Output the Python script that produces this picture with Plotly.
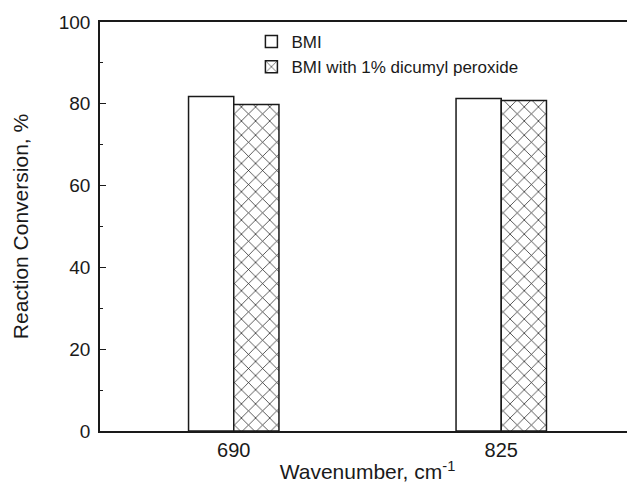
import plotly.graph_objects as go

categories = ["690", "825"]
bmi = [81.8, 81.3]
bmi_dcp = [79.8, 80.8]
series_names = ["BMI", "BMI with 1% dicumyl peroxide"]

FONT = "Arial, Liberation Sans, sans-serif"
INK = "#1a1a1a"

fig = go.Figure()
fig.add_trace(go.Bar(
    x=categories, y=bmi, name=series_names[0],
    marker=dict(color="white", line=dict(color=INK, width=1.5)),
))
fig.add_trace(go.Bar(
    x=categories, y=bmi_dcp, name=series_names[1],
    marker=dict(color="white", line=dict(color=INK, width=1.5),
                pattern=dict(shape="x", size=10, solidity=0.14,
                             fgcolor=INK, bgcolor="white", fillmode="replace")),
))

# page body has an 8px default margin, so the figure is offset by 8px
fig.update_layout(
    width=627, height=484,
    margin=dict(l=92, r=0, t=14, b=61),
    paper_bgcolor="white", plot_bgcolor="white",
    barmode="group", bargap=0.662, bargroupgap=0,
    font=dict(family=FONT, color=INK),
    showlegend=True,
    legend=dict(x=0.283, y=0.995, xanchor="left", yanchor="top",
                bgcolor="rgba(0,0,0,0)", font=dict(size=17, family=FONT, color=INK),
                tracegroupgap=0, itemwidth=30),
    xaxis=dict(
        type="category", range=[-0.5, 1.5], automargin=False,
        showline=True, linecolor=INK, linewidth=1.5, mirror=True,
        ticks="", ticklen=0, showgrid=False, zeroline=False,
        tickfont=dict(size=20, family=FONT, color=INK),
        title=dict(text="Wavenumber, cm<sup>-1</sup>", font=dict(size=21, family=FONT, color=INK), standoff=5),
    ),
    yaxis=dict(
        range=[0, 100], dtick=20, tick0=0, automargin=False,
        showline=True, linecolor=INK, linewidth=1.5, mirror=False,
        ticks="inside", ticklen=6, tickwidth=1.2, tickcolor=INK,
        minor=dict(dtick=10, ticks="inside", ticklen=3, tickwidth=1, tickcolor=INK),
        showgrid=False, zeroline=False,
        tickfont=dict(size=19, family=FONT, color=INK),
        ticklabelstandoff=4,
        title=dict(text="Reaction Conversion, %", font=dict(size=21, family=FONT, color=INK), standoff=24),
    ),
)

fig.write_html("out.html")
